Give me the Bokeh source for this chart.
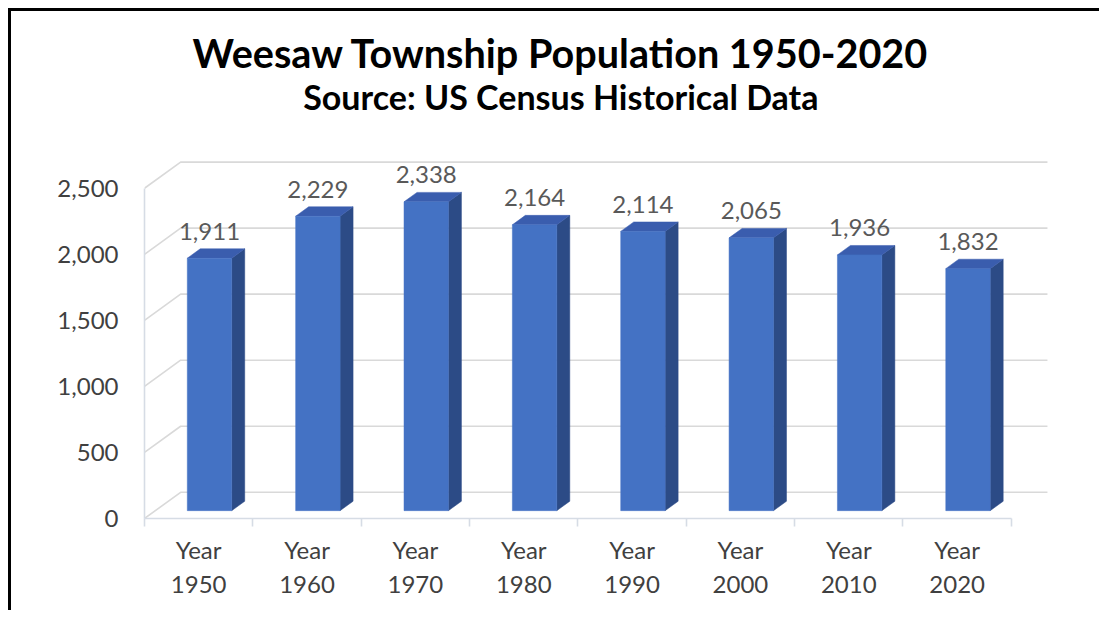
from bokeh.plotting import figure
from bokeh.models import FixedTicker, NumeralTickFormatter, Label, ColumnDataSource, Range1d
from bokeh.core.properties import value
from bokeh.embed import file_html
from bokeh.resources import INLINE

# ---- data ----
years = ["1950", "1960", "1970", "1980", "1990", "2000", "2010", "2020"]
population = [1911, 2229, 2338, 2164, 2114, 2065, 1936, 1832]
y_ticks = [0, 500, 1000, 1500, 2000, 2500]
title_text = "Weesaw Township Population 1950-2020"
subtitle_text = "Source: US Census Historical Data"

# ---- geometry ----
W, H = 1088, 599
ML, MR, MT, MB = 133, 40, 66, 95
PX_PER_CAT = 108.0
PX_PER_UNIT = 0.1312
fw = W - ML - MR
fh = H - MT - MB
x_end = fw / PX_PER_CAT
y_end = fh / PX_PER_UNIT
ddx = 36.0 / PX_PER_CAT       # depth offset (data units)
ddy = 26.0 / PX_PER_UNIT
f0, f1 = 0.30, 0.66           # bar front/back depth fraction
bw = 0.41                     # bar width (categories)
n = len(years)

FONT = "Lato"
GRID = "#D9D9D9"
AXIS = "#D6DCE5"
TXT = "#595959"

p = figure(width=W, height=H, output_backend="svg", toolbar_location=None,
           x_range=Range1d(0, x_end), y_range=Range1d(0, y_end),
           min_border_left=ML, min_border_right=MR, min_border_top=MT, min_border_bottom=MB)
p.styles = {"margin-left": "8px", "margin-top": "8px", "box-sizing": "content-box",
            "border-left": "3px solid #000000", "border-top": "3px solid #000000",
            "border-right": "0px none", "border-bottom": "0px none"}
p.outline_line_color = None
p.xgrid.visible = False
p.ygrid.visible = False

# title
p.title.text = title_text
p.title.align = "left"
p.title.offset = 48
p.title.standoff = 4
p.title.text_font = FONT
p.title.text_font_style = "bold"
p.title.text_font_size = "39.6px"
p.title.text_color = "#000000"

# subtitle (inside the extended frame, above the chart walls)
p.add_layout(Label(x=(562 - 147) / PX_PER_CAT, y=y_end - 19 / PX_PER_UNIT, text=subtitle_text,
                   text_align="center", text_baseline="middle", text_font=FONT,
                   text_font_style="bold", text_font_size="34px", text_color="#000000"))

# back-wall gridlines with floor/side diagonals
gx, gy = [], []
for v in y_ticks:
    gx.append([0, ddx, n + ddx])
    gy.append([v, v + ddy, v + ddy])
p.multi_line(xs=gx, ys=gy, line_color=GRID, line_width=1.6)

# 3D bars
xl = [i + 0.5 - bw / 2 + f0 * ddx for i in range(n)]
xr = [x + bw for x in xl]
yb = [f0 * ddy] * n
yt = [v + f0 * ddy for v in population]
dd = f1 - f0
side_x = [[r, r + dd * ddx, r + dd * ddx, r] for r in xr]
side_y = [[b, b + dd * ddy, t + dd * ddy, t] for b, t in zip(yb, yt)]
top_x = [[l, r, r + dd * ddx, l + dd * ddx] for l, r in zip(xl, xr)]
top_y = [[t, t, t + dd * ddy, t + dd * ddy] for t in yt]

p.patches(xs=side_x, ys=side_y, fill_color="#2C4B86", line_color="#2C4B86", line_width=0.5)
p.patches(xs=top_x, ys=top_y, fill_color="#3A5DAE", line_color="#3A5DAE", line_width=0.5)
p.quad(left=xl, right=xr, bottom=yb, top=yt, fill_color="#4472C4", line_color="#4472C4", line_width=0.5)

# value labels
lab = ColumnDataSource(dict(
    x=[(l + r) / 2 for l, r in zip(xl, xr)],
    y=[v + f1 * ddy for v in population],
    t=[f"{v:,}" for v in population]))
p.text(x="x", y="y", text="t", source=lab, text_align="center", text_baseline="bottom",
       y_offset=-9, text_font=value(FONT), text_font_size="24px", text_color=TXT)

# axes
centers = [i + 0.5 for i in range(n)]
p.xaxis.ticker = FixedTicker(ticks=centers, minor_ticks=list(range(n + 1)))
p.xaxis.major_label_overrides = {c: "Year\n" + y for c, y in zip(centers, years)}
p.xaxis.bounds = (0, n)
p.xaxis.axis_line_color = AXIS
p.xaxis.axis_line_width = 1.6
p.xaxis.major_tick_line_color = None
p.xaxis.major_tick_out = 0
p.xaxis.major_tick_in = 0
p.xaxis.minor_tick_line_color = AXIS
p.xaxis.minor_tick_line_width = 1.6
p.xaxis.minor_tick_out = 8
p.xaxis.minor_tick_in = 0
p.xaxis.major_label_standoff = 8
p.xaxis.major_label_text_font = FONT
p.xaxis.major_label_text_font_size = "24px"
p.xaxis.major_label_text_color = "#404040"
p.xaxis.major_label_text_line_height = 1.2

p.yaxis.ticker = FixedTicker(ticks=y_ticks)
p.yaxis.formatter = NumeralTickFormatter(format="0,0")
p.yaxis.bounds = (0, y_ticks[-1])
p.yaxis.axis_line_color = AXIS
p.yaxis.axis_line_width = 1.6
p.yaxis.major_tick_line_color = None
p.yaxis.major_tick_out = 0
p.yaxis.major_tick_in = 0
p.yaxis.minor_tick_line_color = None
p.yaxis.major_label_standoff = 26
p.yaxis.major_label_text_font = FONT
p.yaxis.major_label_text_font_size = "24px"
p.yaxis.major_label_text_color = "#404040"

open("out.html", "w").write(file_html(p, INLINE))
